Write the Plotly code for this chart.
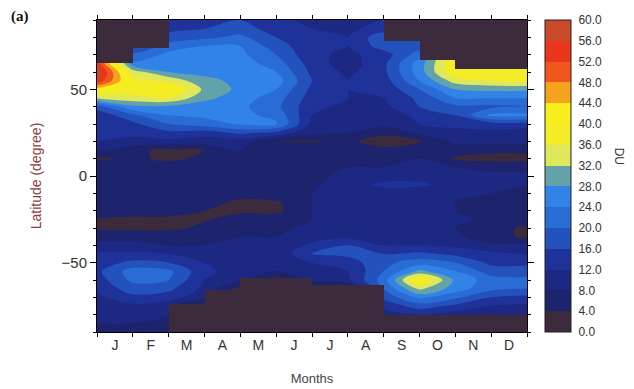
import numpy as np
import plotly.graph_objects as go

# ---------------- data ----------------
months = ["J", "F", "M", "A", "M", "J", "J", "A", "S", "O", "N", "D"]
month_centers = [0.5, 1.5, 2.5, 3.5, 4.5, 5.5, 6.5, 7.5, 8.5, 9.5, 10.5, 11.5]
# sampling positions of the field (month boundaries, 0 = start of January)
x_pos = [0, 1, 2, 3, 4, 5, 6, 7, 8, 9, 10, 11, 12]
# latitudes, north to south
lats = [90, 85, 80, 75, 70, 65, 60, 55, 50, 45, 40, 35, 30, 25, 20, 15, 10, 5, 0,
        -5, -10, -15, -20, -25, -30, -35, -40, -45, -50, -55, -60, -65, -70, -75, -80, -85, -90]

# values (DU) per sampling column, from 90N to 90S
c00 = [2, 2, 2, 2, 54, 54, 59, 55, 42, 33, 18, 13, 15, 16, 12, 9, 3, 8, 7,
       7, 6, 7, 7, 3.5, 3, 7, 9, 13, 14, 15, 14, 13, 11, 10, 10, 8, 7]
c01 = [2, 2, 2, 14, 21, 25, 34, 38, 38, 35, 27, 19, 15, 13, 11, 5, 5, 8, 8,
       7, 8, 7, 6, 3, 3, 7, 9, 13, 17, 22, 21, 18, 15, 11, 9, 8, 8]
c02 = [12, 15, 17, 22, 25, 26, 28, 35, 42, 36, 27, 24, 20, 15, 11, 3, 3, 7, 8,
       8, 7, 7, 6, 3, 3, 7, 8, 12, 16, 21, 20, 17, 14, 9, 8, 8, 8]
c03 = [14, 16, 19, 24, 25, 26, 27, 29, 31, 29, 26, 25, 22, 14, 10, 4, 5, 7, 8,
       8, 7, 6, 4, 3.5, 5, 7, 8, 10, 12, 13, 12, 11, 9, 2, 2, 2, 2]
c04 = [16, 18, 21, 24, 25, 26, 26, 27, 27, 26, 25, 25, 24.5, 17, 10, 8, 7, 8, 8,
       7, 6, 3, 3, 6, 7, 8, 9, 10, 11, 10, 9, 2, 2, 2, 2, 2, 2]
c05 = [13, 14, 16, 18, 20, 22, 24, 26, 24, 22, 21, 23, 24.5, 15, 4, 7, 8, 8, 8,
       7, 7, 3.5, 3, 6, 7, 8, 9, 9, 9, 8, 2, 2, 2, 2, 2, 2, 2]
c06 = [11, 12, 13, 13, 13, 14, 15, 16, 15, 14, 13, 12, 11, 9, 3.5, 7, 8, 8, 7,
       7, 8, 8, 8, 8, 9, 10, 13, 16, 12, 10, 9, 2, 2, 2, 2, 2, 2]
c07 = [10, 11, 12, 12, 11, 10, 11, 12, 12, 12, 11, 10, 9, 8, 5, 7, 8, 8, 9,
       11, 9, 9, 9, 9, 9, 11, 16, 17, 14, 12, 11, 2, 2, 2, 2, 2, 2]
c08 = [12, 14, 19, 18, 14, 15, 15, 14, 13, 12, 11, 10, 9, 5, 2, 5, 8, 8, 11,
       12.5, 11, 10, 11, 10, 9, 10, 12, 16, 19, 20, 22, 20, 17, 13, 10, 2, 2]
c09 = [2, 2, 15, 18, 22, 26, 26, 24, 20, 17, 16, 13, 12, 9, 3.5, 7, 8, 9, 11,
       12.5, 10, 9, 10, 10, 9, 10, 12, 17, 22, 29, 41, 33, 25, 18, 12, 2, 2]
c10 = [2, 2, 2, 2, 40, 40, 40, 34, 28, 24, 19, 16, 13, 11, 9, 6, 3.5, 8, 11,
       11, 9, 8, 8, 9, 8, 9, 11, 15, 20, 24, 27, 26, 21, 15, 10, 2, 2]
c11 = [2, 2, 2, 2, 40, 40, 40, 36, 29, 24, 19, 25, 14, 11, 9, 5, 2.5, 7, 9,
       9, 8, 8, 8, 7, 5, 5, 9, 13, 15, 18, 22, 21, 16, 12, 9, 2, 2]
c12 = [2, 2, 2, 2, 40, 40, 40, 37, 29, 24, 20, 25, 14, 10, 9, 5, 2.5, 7, 9,
       8, 8, 8, 8, 7, 3.5, 3.5, 9, 12, 15, 18, 21, 20, 15, 11, 8, 2, 2]

# no-data areas per month (latitude where the gap starts)
north_missing_from = [65, 74, 90, 90, 90, 90, 90, 90, 78, 67, 62, 62]
south_missing_below = [-90, -90, -74, -66, -59, -59, -63, -63, -80, -80, -80, -80]

levels = [0, 4, 8, 12, 16, 20, 24, 28, 32, 36, 40, 44, 48, 52, 56, 60]
level_colors = ["#3b2b3d", "#1d236c", "#1c2882", "#1f329a", "#2352bc", "#296cd6",
                "#3283e8", "#62a2a8", "#dfe75a", "#f3ec26", "#f7ee1c", "#f5a21e",
                "#f0561e", "#e8361c", "#c84a2a"]

# ---------------- figure ----------------
cols = [c00, c01, c02, c03, c04, c05, c06, c07, c08, c09, c10, c11, c12]
z = np.array(cols, dtype=float).T[::-1]      # rows: south -> north
y = lats[::-1]

cs = []
n = len(level_colors)
for i, c in enumerate(level_colors):
    cs.append([i / n, c])
    cs.append([(i + 1) / n, c])

fig = go.Figure()
fig.add_trace(go.Contour(
    x=x_pos, y=y, z=z,
    zmin=levels[0], zmax=levels[-1],
    autocontour=False,
    contours=dict(start=levels[0], end=levels[-1], size=levels[1] - levels[0],
                  coloring="fill", showlines=False),
    line=dict(width=0),
    colorscale=cs,
    colorbar=dict(
        x=1.042, xanchor="left", xpad=0, ypad=0,
        y=0.5, yanchor="middle", len=1, lenmode="fraction",
        thickness=26, outlinecolor="#222", outlinewidth=1,
        tickmode="array", tickvals=levels,
        ticktext=["%.1f" % v for v in levels],
        ticks="outside", ticklen=5, tickcolor="rgba(0,0,0,0)",
        tickfont=dict(family="Liberation Sans", size=12, color="#333"),
    ),
    hoverinfo="skip",
))

gap_color = level_colors[0]
fig.add_trace(go.Bar(
    x=month_centers, base=north_missing_from,
    y=[90 - v for v in north_missing_from],
    width=1, marker=dict(color=gap_color, line=dict(width=0)),
    showlegend=False, hoverinfo="skip",
))
fig.add_trace(go.Bar(
    x=month_centers, base=[-90] * 12,
    y=[v + 90 for v in south_missing_below],
    width=1, marker=dict(color=gap_color, line=dict(width=0)),
    showlegend=False, hoverinfo="skip",
))

fig.update_layout(
    width=634, height=389,
    margin=dict(l=97, r=107, t=20, b=57, autoexpand=False),
    paper_bgcolor="white", plot_bgcolor="white",
    barmode="overlay", bargap=0,
    showlegend=False,
    font=dict(family="Liberation Sans", color="#333"),
)
fig.update_xaxes(
    range=[0, 12], tickmode="array", tickvals=month_centers, ticktext=months,
    ticks="", showgrid=False, zeroline=False, automargin=False,
    showline=True, linecolor="black", linewidth=1, mirror="ticks",
    minor=dict(tickmode="linear", tick0=0, dtick=1, ticks="outside",
               ticklen=4, tickcolor="black", showgrid=False),
    tickfont=dict(size=14, color="#333"),
    title=dict(text="Months", font=dict(size=13, color="#444"), standoff=22),
)
fig.update_yaxes(
    range=[-90, 90], tickmode="array", tickvals=[-50, 0, 50],
    ticks="outside", ticklen=6, tickcolor="black", showgrid=False, zeroline=False,
    automargin=False,
    showline=True, linecolor="black", linewidth=1, mirror="ticks",
    minor=dict(tickmode="linear", tick0=0, dtick=10, ticks="outside",
               ticklen=3, tickcolor="black", showgrid=False),
    tickfont=dict(size=15, color="#333"),
    title=dict(text="Latitude (degree)", font=dict(size=14, color="#8a4040"), standoff=16),
)
fig.add_annotation(text="<b>(a)</b>", xref="paper", yref="paper",
                   x=-0.205, y=1.01, xanchor="left", yanchor="middle",
                   showarrow=False, font=dict(family="Liberation Serif", size=15, color="#111"))
fig.add_annotation(text="DU", xref="paper", yref="paper",
                   x=1.235, y=0.565, textangle=90, showarrow=False,
                   font=dict(family="Liberation Sans", size=12, color="#333"))

fig.write_html("out.html",
               config={"displayModeBar": False},
               post_script="document.body.style.margin='0';document.body.style.overflow='hidden';")
